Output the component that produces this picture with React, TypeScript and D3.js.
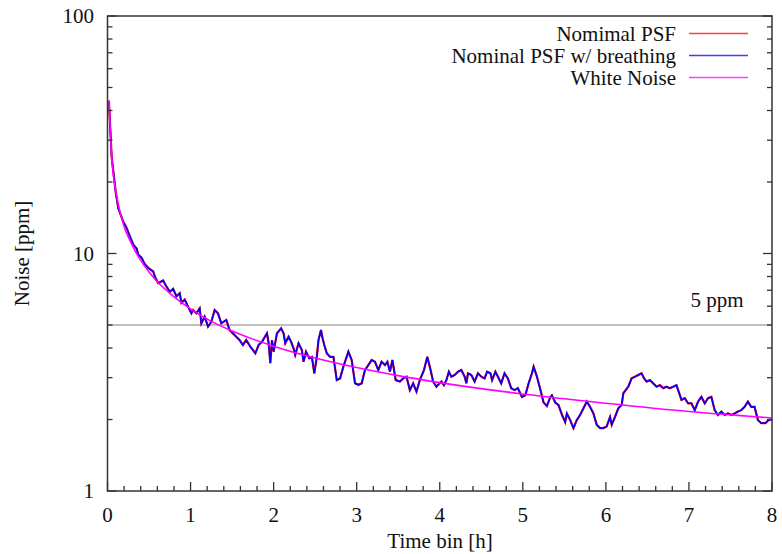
import * as d3 from "d3";

// time bins [h] and noise [ppm]
const psfTime = [
  0.017, 0.05, 0.1, 0.13, 0.19, 0.23, 0.27, 0.31, 0.35, 0.37, 0.41, 0.45, 0.49, 0.55, 0.57, 0.61, 0.67, 0.71,
  0.75, 0.79, 0.83, 0.87, 0.89, 0.93, 0.97, 1.01, 1.03, 1.07, 1.11, 1.13, 1.17, 1.21, 1.25, 1.29, 1.33, 1.37,
  1.43, 1.47, 1.51, 1.55, 1.59, 1.63, 1.67, 1.72, 1.78, 1.82, 1.86, 1.92, 1.94, 1.96, 1.98, 2.0, 2.04, 2.09,
  2.12, 2.14, 2.18, 2.21, 2.24, 2.26, 2.3, 2.34, 2.36, 2.39, 2.43, 2.46, 2.49, 2.52, 2.54, 2.57, 2.59, 2.61,
  2.64, 2.68, 2.72, 2.76, 2.8, 2.84, 2.9, 2.94, 2.98, 3.02, 3.06, 3.1, 3.14, 3.18, 3.22, 3.26, 3.3, 3.34,
  3.37, 3.4, 3.43, 3.47, 3.52, 3.56, 3.6, 3.64, 3.68, 3.72, 3.76, 3.81, 3.85, 3.89, 3.92, 3.96, 4.02, 4.05,
  4.08, 4.11, 4.14, 4.18, 4.22, 4.26, 4.3, 4.32, 4.34, 4.38, 4.42, 4.46, 4.5, 4.54, 4.57, 4.61, 4.63, 4.67,
  4.7, 4.74, 4.78, 4.82, 4.86, 4.9, 4.94, 4.99, 5.03, 5.07, 5.11, 5.13, 5.17, 5.21, 5.25, 5.29, 5.33, 5.35,
  5.39, 5.43, 5.47, 5.51, 5.53, 5.57, 5.61, 5.65, 5.69, 5.73, 5.77, 5.81, 5.85, 5.89, 5.93, 5.97, 6.01, 6.05,
  6.07, 6.11, 6.15, 6.19, 6.21, 6.27, 6.31, 6.35, 6.39, 6.43, 6.46, 6.49, 6.53, 6.57, 6.61, 6.65, 6.69, 6.73,
  6.77, 6.81, 6.85, 6.87, 6.91, 6.95, 6.99, 7.03, 7.07, 7.11, 7.15, 7.19, 7.23, 7.27, 7.31, 7.35, 7.39, 7.43,
  7.47, 7.51, 7.55, 7.59, 7.63, 7.67, 7.71, 7.75, 7.79, 7.83, 7.87, 7.92, 7.96, 8.0,
];

const breathingPsf = [
  44, 25.5, 18, 15.5, 13.6, 12.8, 11.8, 10.9, 10.5, 9.9, 9.6, 9.0, 8.7, 8.4, 8.0, 7.5, 7.7, 7.25,
  6.9, 7.1, 6.6, 6.8, 6.2, 6.4, 5.97, 5.6, 5.78, 5.6, 5.88, 5.08, 5.42, 4.92, 5.16, 5.78, 5.6, 5.08,
  5.25, 4.76, 4.61, 4.46, 4.32, 4.12, 4.32, 4.05, 3.8, 4.12, 4.25, 4.61, 4.19, 3.45, 4.32, 3.86, 4.61, 4.84,
  4.61, 4.19, 4.46, 4.25, 3.99, 3.74, 4.19, 3.92, 3.5, 3.86, 3.62, 3.67, 3.13, 3.67, 4.32, 4.76, 4.39, 4.12,
  3.8, 3.67, 3.67, 2.93, 2.98, 3.34, 3.86, 3.56, 2.84, 2.8, 2.84, 3.23, 3.39, 3.56, 3.5, 3.23, 3.5, 3.39,
  3.5, 3.18, 3.56, 2.93, 2.89, 2.98, 3.03, 2.66, 2.84, 2.62, 2.93, 3.23, 3.67, 3.23, 2.89, 2.75, 2.89, 2.79,
  2.93, 3.18, 3.03, 3.08, 3.18, 3.23, 3.03, 2.84, 3.13, 3.08, 2.89, 3.13, 3.03, 2.98, 3.18, 3.13, 2.93, 3.18,
  3.03, 2.84, 3.13, 2.98, 2.71, 2.66, 2.71, 2.49, 2.53, 2.84, 3.13, 3.34, 3.03, 2.68, 2.36, 2.28, 2.48, 2.53,
  2.36, 2.3, 2.1, 1.95, 2.12, 1.99, 1.84, 1.99, 2.09, 2.23, 2.38, 2.26, 2.12, 1.9, 1.84, 1.84, 1.87, 2.05,
  1.9, 2.05, 2.23, 2.3, 2.58, 2.75, 2.98, 3.03, 3.08, 3.13, 2.98, 2.89, 2.93, 2.84, 2.75, 2.79, 2.71, 2.75,
  2.71, 2.75, 2.79, 2.66, 2.42, 2.46, 2.34, 2.34, 2.19, 2.38, 2.49, 2.34, 2.46, 2.49, 2.19, 2.09, 2.16, 2.09,
  2.12, 2.09, 2.12, 2.16, 2.19, 2.26, 2.38, 2.26, 2.26, 1.99, 1.93, 1.93, 1.99, 2.0,
];

// the nominal PSF curve sits under the breathing one everywhere
const nominalPsf = [...breathingPsf];

const whiteTime = [0.017, 0.05, 0.1, 0.15, 0.2, 0.3, 0.4, 0.5, 0.6, 0.75, 1, 1.25, 1.5, 2, 2.5, 3, 3.5, 4, 5, 6, 7, 8];
const whiteNoise = [44, 25.8, 18.3, 15.0, 13.0, 10.8, 9.35, 8.35, 7.6, 6.8, 5.85, 5.18, 4.72, 4.07, 3.63, 3.31, 3.06, 2.86, 2.56, 2.34, 2.16, 2.03];

const xTicks = [0, 1, 2, 3, 4, 5, 6, 7, 8];
const yTicks = [1, 10, 100];
const threshold = 5;

const legendNames = ["Nomimal PSF", "Nominal PSF w/ breathing", "White Noise"];
const legendColors = ["#ff0000", "#0000ff", "#ff00ff"];

export default function App() {
  const W = 782;
  const H = 554;
  const left = 107.5;
  const right = 772;
  const top = 16;
  const bottom = 491;
  const font = "'Liberation Serif', 'Times New Roman', serif";

  const x = d3.scaleLinear().domain([0, 8]).range([left, right]);
  const y = d3.scaleLog().domain([1, 100]).range([bottom, top]);

  const straight = d3.line<[number, number]>().x((d) => x(d[0])).y((d) => y(d[1]));
  const smooth = d3
    .line<[number, number]>()
    .x((d) => x(d[0]))
    .y((d) => y(d[1]))
    .curve(d3.curveMonotoneX);

  const nominalPts = psfTime.map((t, i) => [t, nominalPsf[i]] as [number, number]);
  const breathPts = psfTime.map((t, i) => [t, breathingPsf[i]] as [number, number]);
  const whitePts = whiteTime.map((t, i) => [t, whiteNoise[i]] as [number, number]);

  // minor ticks
  const xMinor = d3.range(0, 8.001, 0.2).filter((v) => Math.abs(v - Math.round(v)) > 0.01);
  const yMinor: number[] = [];
  for (const dec of [1, 10]) for (let k = 2; k <= 9; k++) yMinor.push(dec * k);

  return (
    <svg width={W} height={H} style={{ position: "absolute", left: 0, top: 0, background: "#fff" }}>
      <defs>
        <clipPath id="plot">
          <rect x={left} y={top} width={right - left} height={bottom - top} />
        </clipPath>
      </defs>

      {/* 5 ppm level */}
      <line x1={left} x2={right} y1={y(threshold)} y2={y(threshold)} stroke="#808080" strokeWidth={1.2} />
      <text x={717} y={y(threshold) - 18} fontFamily={font} fontSize={21} textAnchor="middle" fill="#111">
        5 ppm
      </text>

      <g clipPath="url(#plot)" fill="none">
        <path d={straight(nominalPts) ?? ""} stroke="#ff0000" strokeWidth={2.2} />
        <path d={straight(breathPts) ?? ""} stroke="#0000ff" strokeWidth={1.6} />
        <path d={smooth(whitePts) ?? ""} stroke="#ff00ff" strokeWidth={1.6} />
      </g>

      {/* frame */}
      <rect x={left} y={top} width={right - left} height={bottom - top} fill="none" stroke="#333" strokeWidth={1.5} />

      {/* x ticks */}
      {xTicks.map((t) => (
        <g key={"xt" + t}>
          <line x1={x(t)} x2={x(t)} y1={bottom} y2={bottom - 9} stroke="#333" strokeWidth={1.3} />
          <text x={x(t)} y={522} fontFamily={font} fontSize={21} textAnchor="middle" fill="#111">
            {t}
          </text>
        </g>
      ))}
      {xMinor.map((t) => (
        <line key={"xm" + t} x1={x(t)} x2={x(t)} y1={bottom} y2={bottom - 5} stroke="#333" strokeWidth={1.3} />
      ))}

      {/* y ticks, both sides */}
      {yTicks.map((v) => (
        <g key={"yt" + v}>
          <line x1={left} x2={left + 9} y1={y(v)} y2={y(v)} stroke="#333" strokeWidth={1.3} />
          <line x1={right} x2={right - 9} y1={y(v)} y2={y(v)} stroke="#333" strokeWidth={1.3} />
          <text x={94} y={y(v) + 7} fontFamily={font} fontSize={21} textAnchor="end" fill="#111">
            {v}
          </text>
        </g>
      ))}
      {yMinor.map((v) => (
        <g key={"ym" + v}>
          <line x1={left} x2={left + 5} y1={y(v)} y2={y(v)} stroke="#333" strokeWidth={1.3} />
          <line x1={right} x2={right - 5} y1={y(v)} y2={y(v)} stroke="#333" strokeWidth={1.3} />
        </g>
      ))}

      {/* axis titles */}
      <text x={440} y={548} fontFamily={font} fontSize={21} textAnchor="middle" fill="#111">
        Time bin [h]
      </text>
      <text
        transform={`translate(29,${(top + bottom) / 2}) rotate(-90)`}
        fontFamily={font}
        fontSize={21}
        textAnchor="middle"
        fill="#111"
      >
        Noise [ppm]
      </text>

      {/* legend */}
      {legendNames.map((name, i) => {
        const ly = 33.5 + i * 22;
        return (
          <g key={name}>
            <text x={676} y={ly + 7} fontFamily={font} fontSize={21} textAnchor="end" fill="#111">
              {name}
            </text>
            <line x1={689} x2={748} y1={ly} y2={ly} stroke={legendColors[i]} strokeWidth={1.3} opacity={0.75} />
          </g>
        );
      })}
    </svg>
  );
}
